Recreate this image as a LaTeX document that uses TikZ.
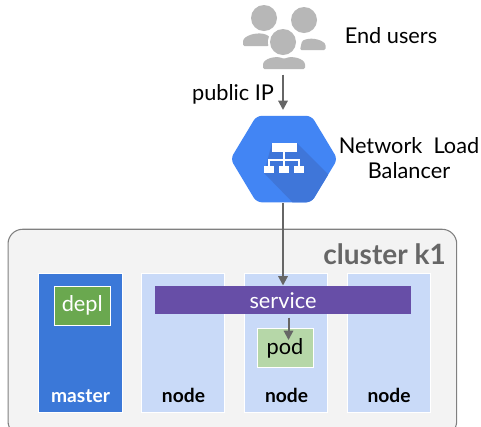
\documentclass[tikz,border=0pt]{standalone}
\usepackage{fontspec}
\setmainfont{Lato}
\usetikzlibrary{arrows.meta}
\definecolor{clfill}{HTML}{F3F3F3}
\definecolor{clline}{HTML}{808080}
\definecolor{mast}{HTML}{3B78D8}
\definecolor{nodeb}{HTML}{C9DAF8}
\definecolor{serv}{HTML}{674EA7}
\definecolor{grn}{HTML}{6AA84F}
\definecolor{lgrn}{HTML}{B6D7A8}
\definecolor{hexb}{HTML}{4285F4}
\definecolor{hexd}{HTML}{3F76D9}
\definecolor{usr}{HTML}{B7B7B7}
\definecolor{arr}{HTML}{666666}
\tikzset{
 x=0.75pt,y=-0.75pt,
 colbox/.style={anchor=north west,inner sep=0pt,outer sep=0pt,draw=white,line width=0.5pt},
 lab/.style={inner sep=0pt,font=\fontsize{16.3}{19}\selectfont,align=center},
 blab/.style={inner sep=0pt,font=\fontsize{14.4}{17}\selectfont\bfseries},
 conn/.style={draw=arr,line width=1.5pt,-{Triangle[length=7pt,width=7pt]}},
 usershape/.style={fill=usr,draw=none},
 iconp/.style={fill=white,draw=none},
}
\newcommand{\bx}[5]{\node[colbox,fill=#5,minimum width=#3*0.75pt,minimum height=#4*0.75pt] (#1) at (#2) {};}
\begin{document}
\begin{tikzpicture}
\useasboundingbox (0,0) rectangle (481,426);
\clip (0,0) rectangle (481,426);
\fill[white] (0,0) rectangle (481,426);
\node[anchor=north west,inner sep=0pt,draw=clline,line width=0.8pt,fill=clfill,rounded corners=11pt,minimum width=336.5pt,minimum height=155pt] (cluster) at (7.5,228.7) {};
\node[inner sep=0pt,anchor=base east,text=arr,font=\fontsize{21}{25}\selectfont\bfseries] (ctitle) at (446,264) {cluster k1};
\bx{master}{38.7,273.5}{83.5}{138.5}{mast}
\bx{n1}{141.7,273.5}{83}{138.5}{nodeb}
\bx{n2}{244.7,273.5}{83}{138.5}{nodeb}
\bx{n3}{347.2,273.5}{83.5}{138.5}{nodeb}
\node[blab,text=white,anchor=base] (lm) at (80.5,402) {master};
\node[blab,anchor=base] (l1) at (183.5,402) {node};
\node[blab,anchor=base] (l2) at (286.5,402) {node};
\node[blab,anchor=base] (l3) at (389,402) {node};
\bx{depl}{54,286}{56.5}{39.5}{grn}
\node[lab,text=white] at (depl.center) {depl};
\bx{pod}{257,328.5}{56}{39}{lgrn}
\node[lab] at (pod.center) {pod};
\node[anchor=north west,inner sep=0pt,outer sep=0pt,fill=serv,minimum width=192.3pt,minimum height=21pt] (service) at (155,286) {};
\node[lab,text=white] at (283,300.5) {service};
% users
\fill[usershape] (264,18) circle (13);
\fill[usershape] (304,20) circle (13);
\fill[usershape,rounded corners=1pt] (243,46) -- (243,40) .. controls (248,34) and (259,32) .. (267,35) -- (271,38) -- (269,46) -- cycle;
\fill[usershape,rounded corners=1pt] (325.5,50) -- (325.5,44) .. controls (320,39) and (310,37) .. (302,41) -- (300,50) -- cycle;
\fill[white] (283,42) circle (15);
\fill[usershape] (283,42) circle (13);
\fill[usershape,rounded corners=1pt] (263,69) -- (263,63) .. controls (268,57) and (278,56) .. (284,59) .. controls (290,56) and (300,57) .. (305,63) -- (305,69) -- cycle;
\coordinate (usersb) at (283,74.5);
% hexagon
\begin{scope}
\clip[rounded corners=4pt] (230.5,159) -- (256.5,115.8) -- (311.5,115.8) -- (337.5,159) -- (311.5,202.3) -- (256.5,202.3) -- cycle;
\fill[hexb] (225,110) rectangle (345,210);
\fill[hexd] (272,143) -- (297,143) -- (345,191) -- (345,210) -- (300,210) -- (264,173) -- cycle;
\end{scope}
\fill[iconp] (272,143) rectangle (297,152);
\fill[iconp] (264,166) rectangle (274,173);
\fill[iconp] (279,166) rectangle (289,173);
\fill[iconp] (294,166) rectangle (304,173);
\draw[white,line width=1pt] (284,152) -- (284,166) (269,166) -- (269,160) -- (299,160) -- (299,166);
\coordinate (hexb) at (283,203);
\coordinate (hext) at (283,110);
\coordinate (servt) at (283,285.5);
\coordinate (servb) at (288.5,317.5);
\coordinate (podt) at (288.5,340);
\draw[conn] (usersb) -- (hext);
\draw[conn] (hexb) -- (servt);
\draw[conn] (servb) -- (podt);
\node[lab,anchor=base] (eu) at (391,43) {End users};
\node[lab,anchor=base] (ip) at (233,100) {public IP};
\node[lab,anchor=base] (nlb1) at (409,153) {Network\ \ Load};
\node[lab,anchor=base] (nlb2) at (409,178) {Balancer};
\end{tikzpicture}
\end{document}
